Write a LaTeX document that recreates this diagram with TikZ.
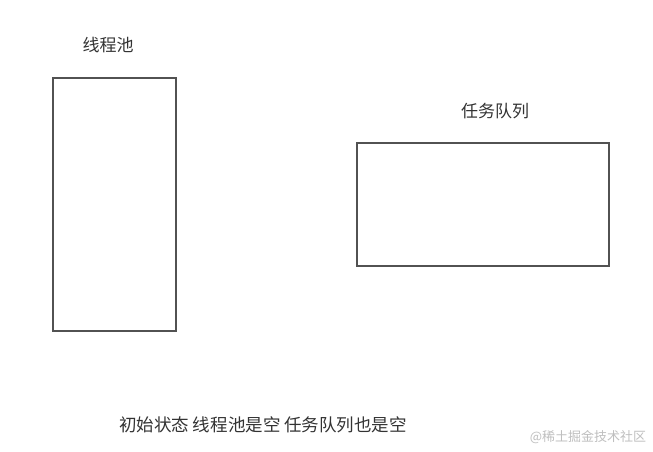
\documentclass[tikz,border=0pt]{standalone}
\usepackage{fontspec}
\newfontfamily\cjk{Noto Sans CJK SC}
\begin{document}
\begin{tikzpicture}[x=1pt,y=-1pt,
  boxstyle/.style={draw=black!68, line width=2pt, fill=none},
  lbl/.style={font=\cjk\fontsize{17}{20}\selectfont, text=black!80, inner sep=0pt},
  wm/.style={font=\cjk\fontsize{13}{16}\selectfont, text=black!25, inner sep=0pt}]
\useasboundingbox (0,0) rectangle (653,451);
\fill[white] (0,0) rectangle (653,451);
\node[boxstyle, minimum width=123pt, minimum height=253pt, anchor=north west] (pool) at (52,77) {};
\node[boxstyle, minimum width=252pt, minimum height=123pt, anchor=north west] (queue) at (356,142) {};
\node[lbl] (poollbl) at (108,45) {线程池};
\node[lbl] (queuelbl) at (495,111) {任务队列};
\node[lbl, font=\cjk\fontsize{17.5}{20}\selectfont] (caption) at (263,425) {初始状态 线程池是空 任务队列也是空};
\node[wm] (mark) at (588,437) {@稀土掘金技术社区};
\end{tikzpicture}
\end{document}
